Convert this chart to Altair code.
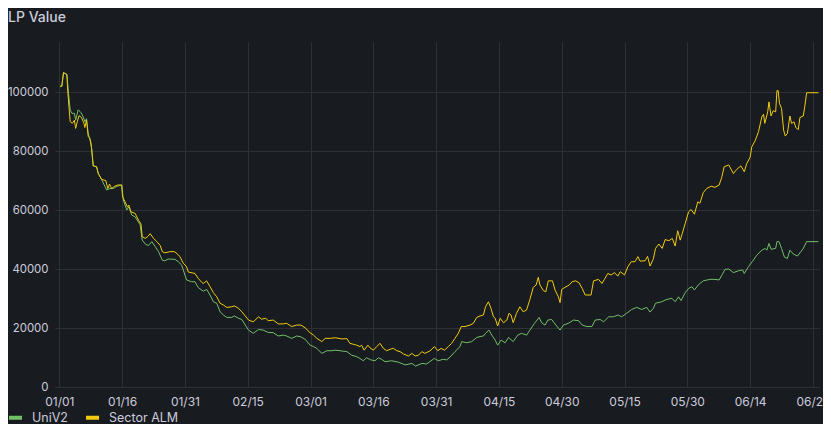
import altair as alt
import pandas as pd
import datetime as dt

# ---------------- data (days since 2024-01-01, values in thousands) ----------------
series_names = ["UniV2", "Sector ALM"]
series_colors = ["#73BF69", "#F2CC0C"]

univ2_day = [0.2, 0.6, 1.0, 1.8, 2.2, 2.6, 3.0, 3.6, 3.9, 4.5, 5.2, 5.7, 6.1, 6.5, 6.9, 7.6, 8.1, 8.9, 9.3, 10.1,
             11.3, 12.1, 12.9, 13.7, 14.9, 15.3, 16.1, 16.6, 17.3, 18.1, 19.3, 19.8, 20.6, 21.3, 22.1, 22.9, 23.7,
             24.6, 25.2, 26.0, 27.6, 28.4, 29.2, 30.4, 31.6, 32.4, 33.2, 34.4, 35.2, 36.0, 36.8, 37.6, 38.4, 39.2,
             40.0, 41.2, 41.8, 42.8, 43.6, 44.4, 45.2, 46.3, 47.6, 48.7, 49.9, 51.1, 52.3, 53.5, 54.3, 55.5, 56.7,
             57.7, 58.7, 59.9, 60.7, 61.5, 62.7, 63.9, 65.1, 65.9, 67.5, 68.7, 69.8, 71.0, 71.8, 72.6, 73.4, 74.4,
             75.4, 76.2, 77.0, 77.8, 79.4, 81.0, 82.6, 84.2, 85.1, 86.6, 87.7, 89.6, 90.5, 91.7, 92.5, 93.3, 94.5,
             95.7, 96.1, 97.3, 98.5, 99.7, 100.5, 101.3, 101.8, 102.6, 103.3, 104.1, 104.7, 105.5, 106.5, 107.3,
             108.4, 109.5, 110.4, 111.6, 112.4, 113.5, 114.6, 115.2, 116.0, 116.7, 117.6, 118.6, 119.6, 120.4,
             121.6, 122.8, 124.0, 124.9, 126.0, 127.2, 128.0, 129.2, 130.0, 131.2, 132.3, 133.5, 134.3, 135.5,
             136.7, 137.9, 139.1, 140.3, 141.1, 141.9, 142.4, 143.9, 144.7, 146.3, 147.1, 147.9, 148.5, 149.5,
             150.3, 151.1, 151.7, 152.6, 153.8, 155.4, 156.6, 157.6, 158.4, 159.0, 159.9, 161.0, 162.2, 163.2,
             163.6, 164.6, 165.5, 166.6, 167.8, 168.6, 169.0, 169.5, 170.0, 171.1, 171.4, 171.9, 172.5, 173.2,
             173.9, 174.5, 175.3, 176.3, 176.9, 177.7, 178.5, 181.3]
univ2_val = [102.0, 102.0, 106.6, 106.0, 99.6, 94.0, 92.8, 92.8, 90.5, 94.0, 93.0, 91.6, 90.0, 91.0, 86.0, 82.6,
             75.0, 74.7, 72.4, 70.4, 66.8, 67.3, 67.3, 68.0, 68.5, 63.4, 60.0, 61.1, 58.3, 57.7, 55.0, 49.8, 48.4,
             48.0, 49.3, 47.6, 45.9, 43.0, 42.8, 43.4, 43.3, 42.5, 41.4, 36.3, 35.7, 35.7, 33.7, 32.5, 33.1, 31.2,
             28.9, 28.4, 25.5, 24.4, 23.6, 23.6, 24.1, 23.3, 22.9, 21.0, 19.3, 18.2, 19.5, 19.3, 18.5, 18.4, 17.3,
             17.6, 17.3, 16.5, 17.3, 17.0, 16.2, 14.2, 13.7, 13.1, 11.4, 12.3, 12.3, 12.5, 12.2, 12.0, 10.8, 10.3,
             9.7, 8.9, 9.9, 9.2, 8.9, 9.9, 9.4, 8.6, 8.9, 8.4, 7.5, 8.0, 7.1, 8.0, 7.8, 9.7, 8.9, 9.4, 9.2, 10.1,
             12.0, 13.7, 15.4, 15.0, 15.4, 16.8, 17.1, 17.3, 18.2, 19.3, 17.6, 15.9, 14.2, 15.9, 15.0, 16.8, 15.4,
             17.6, 18.2, 17.6, 19.3, 21.6, 23.6, 21.8, 21.0, 22.7, 22.9, 21.0, 19.3, 21.0, 21.6, 22.7, 22.5, 21.0,
             20.5, 20.5, 22.7, 22.9, 22.1, 23.8, 23.8, 24.4, 23.8, 25.0, 26.3, 27.0, 26.3, 27.0, 25.4, 26.7, 28.4,
             28.9, 29.5, 30.1, 28.9, 30.6, 29.3, 32.0, 33.4, 34.0, 32.9, 34.6, 36.0, 36.5, 36.5, 36.3, 38.3, 39.9,
             40.0, 38.8, 39.4, 39.7, 38.5, 40.8, 42.5, 44.7, 46.4, 47.0, 46.4, 48.7, 46.7, 47.0, 49.3, 49.3, 47.0,
             44.0, 43.6, 46.4, 45.1, 44.4, 45.5, 47.0, 49.3, 49.3]

alm_day = [0.2, 0.6, 1.0, 1.8, 2.0, 2.3, 2.6, 3.1, 3.6, 3.9, 4.3, 4.7, 5.3, 5.9, 6.1, 6.5, 6.9, 7.3, 7.7, 8.1, 8.9,
           9.3, 10.1, 11.1, 11.6, 12.0, 12.5, 13.1, 13.9, 14.9, 15.1, 15.7, 16.3, 16.6, 17.1, 18.1, 18.9, 19.5,
           19.8, 20.5, 21.1, 21.7, 22.5, 23.3, 24.1, 24.6, 25.2, 26.4, 27.5, 28.3, 28.8, 29.6, 30.4, 30.8, 32.4,
           33.2, 34.0, 34.4, 35.2, 36.0, 36.8, 37.6, 38.4, 39.2, 40.0, 41.2, 41.8, 42.8, 43.6, 44.4, 45.2, 46.3,
           47.6, 48.3, 49.3, 49.9, 51.1, 52.3, 53.5, 54.3, 55.5, 56.7, 57.7, 58.7, 59.9, 60.7, 61.5, 62.7, 63.5,
           64.7, 65.9, 67.5, 68.7, 69.4, 70.2, 71.0, 71.8, 72.2, 72.8, 73.7, 74.2, 75.0, 75.8, 76.6, 77.4, 78.2,
           79.0, 79.8, 80.6, 81.4, 82.2, 83.4, 84.2, 85.0, 85.8, 86.6, 87.3, 88.5, 89.6, 90.4, 91.2, 92.0, 92.9,
           93.7, 94.5, 95.3, 96.0, 96.9, 98.1, 98.9, 99.7, 100.5, 101.3, 101.8, 102.5, 103.1, 103.7, 104.1,
           104.7, 105.3, 106.1, 106.9, 107.4, 107.9, 108.4, 109.2, 110.0, 110.8, 111.6, 112.4, 113.2, 113.9,
           114.4, 114.8, 115.6, 116.2, 116.8, 117.8, 118.4, 119.2, 119.6, 120.0, 120.8, 121.8, 122.5, 123.3,
           124.1, 124.9, 125.6, 127.0, 127.6, 128.8, 129.6, 130.2, 131.0, 131.8, 132.6, 133.4, 134.0, 135.0,
           135.8, 136.6, 137.5, 138.2, 138.7, 139.9, 140.5, 141.1, 141.9, 142.4, 143.2, 144.0, 144.7, 145.6,
           146.4, 147.1, 147.7, 148.3, 148.8, 149.5, 150.3, 150.9, 151.7, 152.5, 153.0, 153.8, 154.6, 155.7,
           156.6, 157.6, 158.2, 158.8, 159.9, 161.0, 161.8, 162.8, 163.6, 164.2, 165.0, 165.4, 166.2, 167.0,
           167.8, 168.2, 168.5, 169.2, 169.5, 170.0, 170.5, 171.1, 171.4, 171.7, 172.0, 172.5, 173.0, 173.4,
           173.9, 174.5, 174.9, 175.5, 175.9, 176.5, 176.9, 177.7, 178.1, 178.5, 181.3]
alm_val = [102.0, 102.0, 106.6, 106.0, 100.7, 95.0, 90.0, 89.4, 90.5, 87.7, 90.0, 92.0, 91.4, 89.4, 88.0, 90.5,
           85.0, 84.3, 81.0, 75.0, 74.7, 72.4, 70.4, 70.0, 67.3, 68.8, 67.3, 68.0, 68.5, 68.5, 64.5, 62.8, 61.0,
           61.7, 59.4, 58.9, 56.6, 55.3, 51.0, 50.4, 51.0, 52.0, 50.4, 49.3, 48.0, 45.9, 45.5, 45.9, 45.9, 45.0,
           44.2, 42.0, 40.8, 39.0, 38.5, 36.8, 35.5, 35.1, 36.0, 34.0, 32.0, 30.6, 28.4, 27.8, 27.0, 27.2, 27.5,
           26.7, 25.5, 24.1, 22.7, 22.1, 23.8, 23.0, 23.3, 22.5, 22.7, 21.4, 21.4, 21.6, 20.5, 21.0, 21.0, 20.1,
           18.4, 17.6, 16.5, 15.4, 16.5, 16.5, 16.7, 16.3, 16.4, 14.8, 14.5, 14.2, 13.7, 14.2, 12.5, 14.2, 13.3,
           12.5, 13.7, 14.8, 13.1, 12.3, 12.8, 13.1, 12.3, 12.0, 11.2, 10.5, 11.4, 10.5, 10.8, 12.0, 11.4, 12.2,
           13.7, 12.3, 13.1, 12.5, 13.7, 14.8, 16.5, 18.2, 20.5, 20.5, 21.0, 21.6, 23.6, 24.1, 24.4, 27.2, 28.9,
           26.7, 23.8, 23.3, 20.7, 23.3, 21.8, 22.7, 25.0, 24.4, 21.8, 25.0, 27.2, 25.5, 26.1, 29.7, 33.8, 34.6,
           37.2, 34.6, 32.7, 32.3, 36.0, 36.0, 32.9, 30.6, 28.6, 33.1, 33.8, 34.6, 35.7, 36.0, 35.4, 33.4, 31.2,
           31.2, 36.0, 36.5, 35.1, 36.5, 38.5, 38.0, 38.8, 37.6, 39.1, 38.0, 40.8, 42.5, 42.5, 44.2, 42.7, 42.8,
           44.3, 41.0, 43.5, 47.0, 48.5, 47.0, 50.0, 49.6, 50.4, 47.8, 53.0, 49.8, 52.1, 55.5, 59.4, 60.2, 58.6,
           62.8, 62.3, 65.9, 67.3, 68.1, 67.7, 68.5, 71.0, 74.7, 75.3, 72.4, 73.8, 75.0, 73.0, 75.8, 77.9, 81.5,
           83.5, 86.6, 91.6, 92.5, 89.4, 93.3, 96.7, 91.9, 93.7, 93.3, 100.5, 100.5, 96.2, 94.5, 87.1, 85.1,
           86.0, 91.9, 89.4, 89.9, 88.0, 87.3, 91.4, 91.9, 95.6, 99.8, 99.8]

x_tick_days = [0, 15, 30, 45, 60, 75, 90, 105, 120, 135, 150, 165, 180]
y_ticks = [0, 20000, 40000, 60000, 80000, 100000]

# ---------------- build tables ----------------
base = dt.datetime(2024, 1, 1)


def frame(days, vals, name):
    return pd.DataFrame({
        "time": [base + dt.timedelta(days=d) for d in days],
        "value": [v * 1000 for v in vals],
        "series": name,
    })


df_uni = frame(univ2_day, univ2_val, series_names[0])
df_alm = frame(alm_day, alm_val, series_names[1])


def to_dt(d):
    return alt.DateTime(year=d.year, month=d.month, date=d.day, hours=d.hour, minutes=d.minute)


x_start = to_dt(base + dt.timedelta(days=-1.03))
x_end = to_dt(base + dt.timedelta(days=181.45))
x_ticks = [to_dt(base + dt.timedelta(days=d)) for d in x_tick_days]

TEXT = "#ccccdc"
BG = "#181b1f"
GRID = "#2e3035"

color_scale = alt.Scale(domain=series_names, range=series_colors)

x_enc = alt.X("time:T",
              scale=alt.Scale(domain=[x_start, x_end]),
              axis=alt.Axis(values=x_ticks, format="%m/%d", title=None, labelPadding=9,
                            labelAngle=0))
y_enc = alt.Y("value:Q",
              scale=alt.Scale(domain=[0, 117000], nice=False, zero=True),
              axis=alt.Axis(values=y_ticks, format="d", title=None, labelPadding=7,
                            labelFontSize=11.4))

legend = alt.Legend(orient="none", legendX=-48, legendY=367, direction="horizontal", title=None,
                    symbolType="stroke", symbolStrokeWidth=4, symbolSize=169, labelFontSize=12.5,
                    labelColor=TEXT, labelFont="Inter", labelOffset=8, columnPadding=10, padding=0,
                    symbolOffset=0)

line_uni = alt.Chart(df_uni).mark_line(strokeWidth=1, clip=True).encode(
    x=x_enc, y=y_enc,
    color=alt.Color("series:N", scale=color_scale, legend=legend),
)
line_alm = alt.Chart(df_alm).mark_line(strokeWidth=1, clip=True).encode(
    x=x_enc, y=y_enc,
    color=alt.Color("series:N", scale=color_scale, legend=legend),
)

chart = alt.layer(line_uni, line_alm).properties(
    width=764,
    height=345,
    autosize=alt.AutoSizeParams(type="none"),
    padding={"left": 47, "top": 34, "right": 4, "bottom": 37},
    background=BG,
    title=alt.TitleParams("LP Value", anchor="start", frame="group", dx=-47, offset=6,
                          baseline="alphabetic", fontSize=14, fontWeight=500, color=TEXT,
                          font="Inter"),
).configure_view(
    stroke=None
).configure_axis(
    domain=False, ticks=False, grid=True, gridColor=GRID, gridWidth=1,
    labelColor=TEXT, labelFont="Inter", labelFontSize=12,
)

chart.save("out.html", embed_options={"renderer": "svg", "actions": False})
